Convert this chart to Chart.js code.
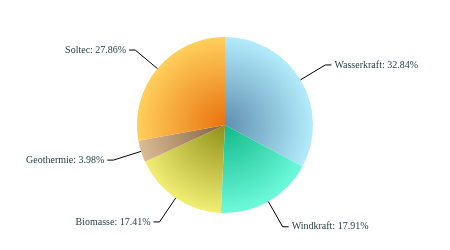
<!DOCTYPE html>
<html>
<head>
<meta charset="utf-8">
<script src="https://cdn.jsdelivr.net/npm/chart.js@4/dist/chart.umd.min.js"></script>
<style>
  html, body { margin: 0; padding: 0; background: #fff; }
  #wrap { width: 450px; height: 250px; }
</style>
</head>
<body>
<div id="wrap"><canvas id="myChart" width="450" height="250"></canvas></div>
<script>
const categories = ['Wasserkraft', 'Windkraft', 'Biomasse', 'Geothermie', 'Soltec'];
const shares = [32.84, 17.91, 17.41, 3.98, 27.86];
// inner (centre) and outer (rim) colours of each slice
const innerColors = ['#5f8fb0', '#10b888', '#8f8f18', '#7f6040', '#e8720e'];
const outerColors = ['#b3ecfc', '#6efadc', '#f2ee74', '#dcbc94', '#ffcf5c'];

function sliceGradient(context) {
    const chart = context.chart;
    const area = chart.chartArea;
    if (!area) return outerColors[context.dataIndex];
    const cx = (area.left + area.right) / 2;
    const cy = (area.top + area.bottom) / 2;
    const r = Math.min(area.right - area.left, area.bottom - area.top) / 2;
    const g = chart.ctx.createRadialGradient(cx, cy, 0, cx, cy, r);
    g.addColorStop(0, innerColors[context.dataIndex]);
    g.addColorStop(1, outerColors[context.dataIndex]);
    return g;
}

// labels outside the pie with leader lines
const outsideLabels = {
    id: 'outsideLabels',
    afterDatasetsDraw(chart) {
        const ctx = chart.ctx;
        const meta = chart.getDatasetMeta(0);
        ctx.save();
        ctx.font = '10px "Liberation Serif", "Times New Roman", serif';
        ctx.textBaseline = 'middle';
        ctx.strokeStyle = '#000';
        ctx.lineWidth = 1;
        ctx.fillStyle = '#1e3c3e';
        meta.data.forEach((arc, i) => {
            const mid = (arc.startAngle + arc.endAngle) / 2;
            const cos = Math.cos(mid), sin = Math.sin(mid);
            const x1 = arc.x + cos * arc.outerRadius;
            const y1 = arc.y + sin * arc.outerRadius;
            const x2 = arc.x + cos * (arc.outerRadius + 29);
            const y2 = arc.y + sin * (arc.outerRadius + 29);
            const side = cos >= 0 ? 1 : -1;
            const x3 = x2 + side * 6;
            ctx.beginPath();
            ctx.moveTo(x1, y1);
            ctx.lineTo(x2, y2);
            ctx.lineTo(x3, y2);
            ctx.stroke();
            ctx.textAlign = side > 0 ? 'left' : 'right';
            const text = categories[i] + ': ' + shares[i].toFixed(2) + '%';
            ctx.fillText(text, x3 + side * 3, y2);
        });
        ctx.restore();
    }
};

new Chart(document.getElementById('myChart').getContext('2d'), {
    type: 'pie',
    data: {
        labels: categories,
        datasets: [{
            data: shares,
            backgroundColor: sliceGradient,
            borderWidth: 0
        }]
    },
    options: {
        responsive: false,
        animation: false,
        layout: { padding: { top: 37, bottom: 37, left: 20, right: 20 } },
        plugins: {
            legend: { display: false },
            tooltip: { enabled: false }
        }
    },
    plugins: [outsideLabels]
});
</script>
</body>
</html>
